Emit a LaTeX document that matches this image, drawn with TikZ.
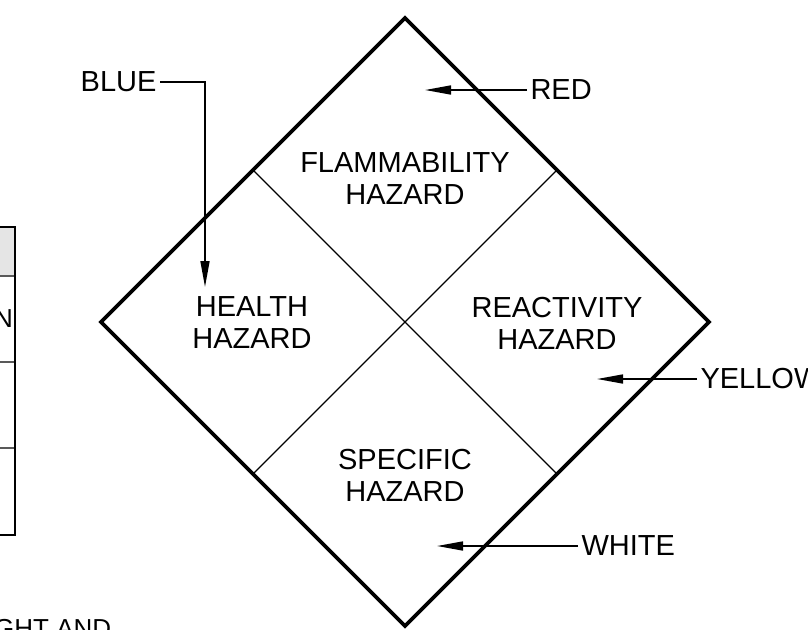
\documentclass[tikz,border=0pt]{standalone}
\usepackage{fontspec}
\setmainfont{Liberation Sans}
\usetikzlibrary{arrows.meta}
\tikzset{
  lbl/.style={font=\fontsize{29}{32}\selectfont},
  arr/.style={line width=1.6pt,-{Triangle[length=26pt,width=9pt]}},
  rim/.style={line width=3.6pt,line join=miter},
  split/.style={line width=1.1pt}
}
\begin{document}
\begin{tikzpicture}[x=1pt,y=-1pt]
                    \useasboundingbox (0,0) rectangle (808,629);
                    \clip (0,0) rectangle (808,629);
                    %TABLE
                    \fill[gray!20] (-5,227) rectangle (15,276);
                    \draw[line width=1.2pt,gray!70!black] (-5,276) -- (15,276);
                    \draw[line width=1.2pt,gray!70!black] (-5,362) -- (15,362);
                    \draw[line width=1.2pt,gray!70!black] (-5,448) -- (15,448);
                    \draw[line width=2.4pt] (-5,227) -- (15,227) -- (15,535) -- (-5,535);
                    \node[anchor=base east,font=\fontsize{26}{28}\selectfont,inner sep=0pt] (rowtext) at (13,327) {N};
                    \node[anchor=base west,font=\fontsize{26}{28}\selectfont,inner sep=0pt] (note) at (-6,637) {GHT AND};

                    %NODE
                    \coordinate (T) at (405,18);
                    \coordinate (R) at (709,322);
                    \coordinate (B) at (405,626);
                    \coordinate (L) at (101,322);
                    \coordinate (TL) at (253,170);
                    \coordinate (TR) at (557,170);
                    \coordinate (BR) at (557,474);
                    \coordinate (BL) at (253,474);
                    \node[lbl,align=center] (flam) at (405,179) {FLAMMABILITY\\HAZARD};
                    \node[lbl,align=center] (health) at (252,323) {HEALTH\\HAZARD};
                    \node[lbl,align=center] (react) at (557,323) {REACTIVITY\\HAZARD};
                    \node[lbl,align=center] (spec) at (405,475) {SPECIFIC\\HAZARD};
                    \node[lbl,anchor=east] (blue) at (160,82) {BLUE};
                    \node[lbl,anchor=west] (red) at (527,90) {RED};
                    \node[lbl,anchor=west] (yellow) at (697,379) {YELLOW};
                    \node[lbl,anchor=west] (white) at (578,546) {WHITE};
                    \coordinate (bluetip) at (205,287);
                    \coordinate (redtip) at (425,90);
                    \coordinate (yellowtip) at (597,379);
                    \coordinate (whitetip) at (437,546);

                    %EDGE
                    \draw[rim] (T) -- (R) -- (B) -- (L) -- cycle;
                    \draw[split] (TL) -- (BR);
                    \draw[split] (TR) -- (BL);
                    \draw[arr] (blue.east) -| (bluetip);
                    \draw[arr] (red.west) -- (redtip);
                    \draw[arr] (yellow.west) -- (yellowtip);
                    \draw[arr] (white.west) -- (whitetip);
                \end{tikzpicture}
\end{document}
